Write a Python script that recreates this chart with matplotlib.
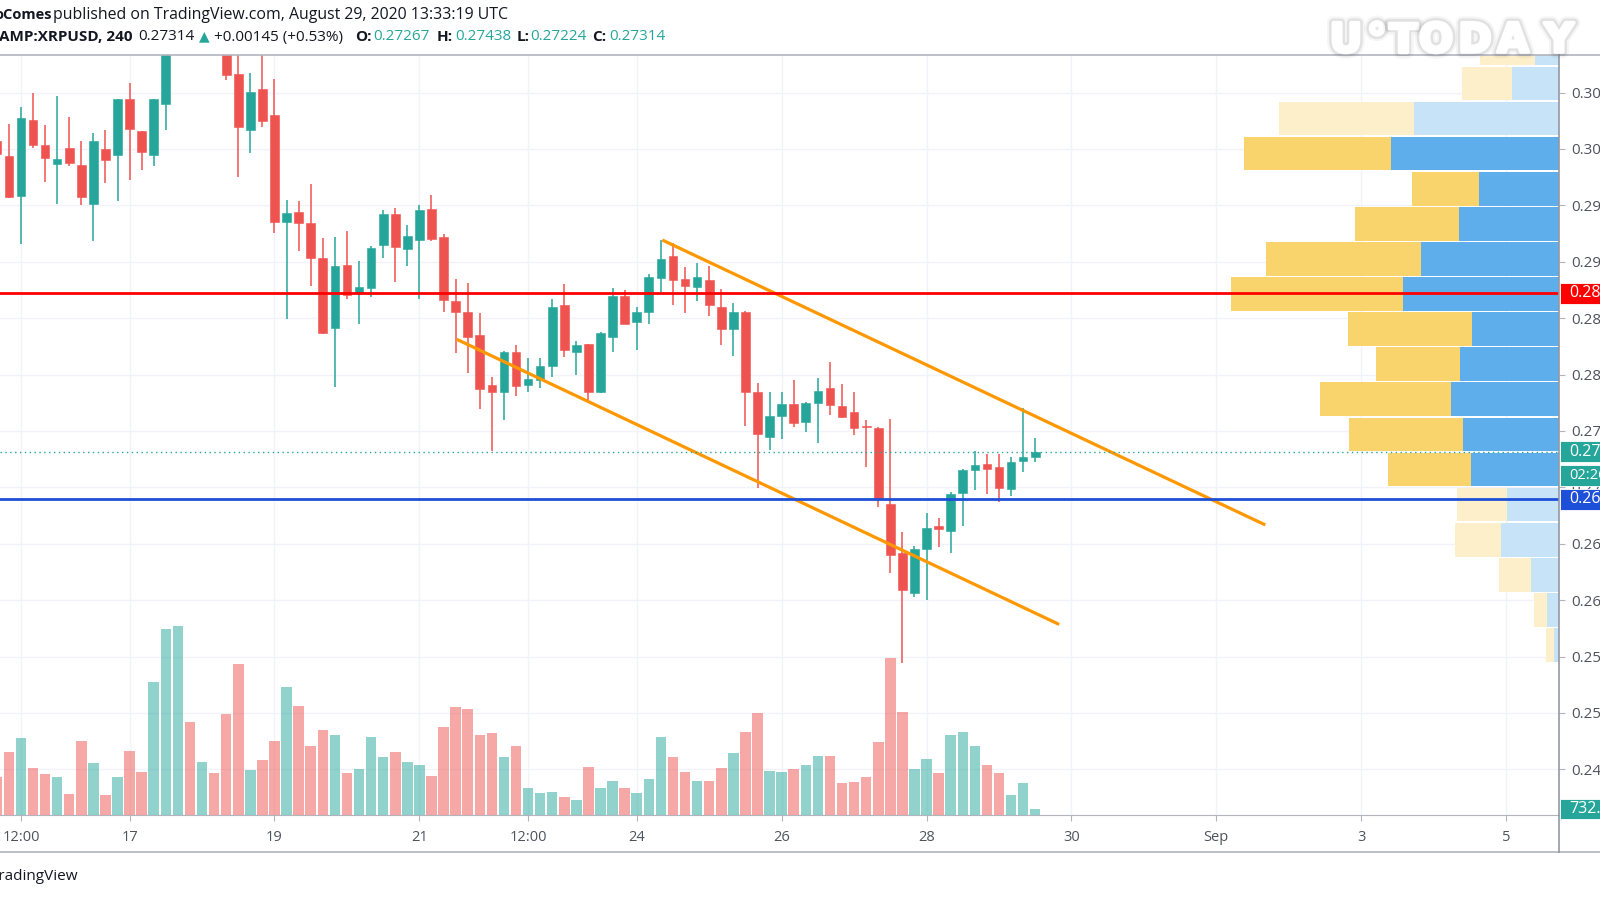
import numpy as np
import matplotlib.pyplot as plt
import matplotlib.patheffects as pe
from matplotlib.lines import Line2D
from matplotlib.patches import Rectangle

plt.rcParams['font.family'] = ['Open Sans', 'DejaVu Sans']

# ---- data ----
# 4h candles, x = day of August (Sep 1 = 32)
t0 = 15 + 4 / 24
opens = [0.30074, 0.29938, 0.29583, 0.30257, 0.30035, 0.29867, 0.30006, 0.29855, 0.29510, 0.30003,
         0.29944, 0.30446, 0.30157, 0.29944, 0.30399, 0.31150, 0.31900, 0.31400, 0.31700, 0.31250,
         0.30665, 0.30168, 0.30529, 0.30301, 0.29355, 0.29439, 0.29344, 0.29036, 0.28410, 0.28969,
         0.28721, 0.28770, 0.29149, 0.29424, 0.29111, 0.29193, 0.29468, 0.29217, 0.28652, 0.28552,
         0.28354, 0.27905, 0.27843, 0.28203, 0.27908, 0.27952, 0.28079, 0.28614, 0.28203, 0.28271,
         0.27843, 0.28336, 0.28697, 0.28469, 0.28555, 0.28854, 0.29054, 0.28847, 0.28779, 0.28839,
         0.28602, 0.28404, 0.28552, 0.27843, 0.27449, 0.27636, 0.27739, 0.27577, 0.27746, 0.27881,
         0.27722, 0.27666, 0.27544, 0.27524, 0.26853, 0.26416, 0.26061, 0.26451, 0.26660, 0.26616,
         0.26953, 0.27154, 0.27207, 0.27184, 0.26986, 0.27237, 0.27267]
highs = [0.30124, 0.30222, 0.30370, 0.30499, 0.30210, 0.30470, 0.30281, 0.30074, 0.30139, 0.30168,
         0.30445, 0.30582, 0.30160, 0.30445, 0.31300, 0.32300, 0.32000, 0.31850, 0.31800, 0.31300,
         0.30950, 0.30671, 0.30900, 0.30618, 0.29548, 0.29539, 0.29687, 0.29214, 0.29217, 0.29273,
         0.29007, 0.29140, 0.29459, 0.29474, 0.29326, 0.29504, 0.29590, 0.29246, 0.28845, 0.28809,
         0.28543, 0.27976, 0.28210, 0.28262, 0.28145, 0.28145, 0.28668, 0.28801, 0.28301, 0.28275,
         0.28380, 0.28770, 0.28750, 0.28597, 0.28892, 0.29193, 0.29164, 0.28951, 0.28992, 0.28963,
         0.28756, 0.28632, 0.28566, 0.27923, 0.27843, 0.27843, 0.27952, 0.27760, 0.27973, 0.28114,
         0.27917, 0.27843, 0.27598, 0.27533, 0.27606, 0.26607, 0.26481, 0.26770, 0.26726, 0.26962,
         0.27160, 0.27325, 0.27296, 0.27296, 0.27267, 0.27701, 0.27438]
lows = [0.29920, 0.29566, 0.29155, 0.30006, 0.29705, 0.29510, 0.29849, 0.29503, 0.29187, 0.29701,
        0.29542, 0.29725, 0.29814, 0.29852, 0.30168, 0.31000, 0.31200, 0.31250, 0.31100, 0.30612,
        0.29749, 0.29962, 0.30198, 0.29258, 0.28493, 0.29093, 0.28788, 0.28360, 0.27887, 0.28668,
        0.28449, 0.28691, 0.29031, 0.28824, 0.28965, 0.28670, 0.29187, 0.28552, 0.28189, 0.28012,
        0.27695, 0.27325, 0.27598, 0.27813, 0.27848, 0.27879, 0.27976, 0.28159, 0.27996, 0.27760,
        0.27840, 0.28198, 0.28445, 0.28218, 0.28446, 0.28735, 0.28617, 0.28549, 0.28655, 0.28520,
        0.28262, 0.28168, 0.27547, 0.26992, 0.27332, 0.27429, 0.27538, 0.27488, 0.27391, 0.27642,
        0.27618, 0.27465, 0.27184, 0.26829, 0.26238, 0.25443, 0.26031, 0.26002, 0.26469, 0.26416,
        0.26660, 0.26977, 0.26942, 0.26873, 0.26926, 0.27139, 0.27224]
closes = [0.29956, 0.29572, 0.30272, 0.30035, 0.29918, 0.29909, 0.29873, 0.29572, 0.30074, 0.29902,
          0.30441, 0.30180, 0.29973, 0.30441, 0.31150, 0.31900, 0.31400, 0.31700, 0.31250, 0.30656,
          0.30192, 0.30508, 0.30251, 0.29350, 0.29430, 0.29347, 0.29031, 0.28366, 0.28963, 0.28706,
          0.28774, 0.29125, 0.29424, 0.29134, 0.29231, 0.29459, 0.29199, 0.28661, 0.28552, 0.28336,
          0.27872, 0.27846, 0.28203, 0.27902, 0.27958, 0.28079, 0.28602, 0.28218, 0.28262, 0.27846,
          0.28366, 0.28697, 0.28449, 0.28558, 0.28863, 0.29027, 0.28839, 0.28788, 0.28863, 0.28617,
          0.28404, 0.28555, 0.27843, 0.27471, 0.27633, 0.27739, 0.27574, 0.27746, 0.27855, 0.27731,
          0.27627, 0.27524, 0.27533, 0.26895, 0.26401, 0.26090, 0.26451, 0.26643, 0.26631, 0.26942,
          0.27154, 0.27196, 0.27160, 0.26995, 0.27228, 0.27267, 0.27314]
volumes = [4673, 7723, 9357, 5697, 5002, 4599, 2562, 9028, 6307, 2477,
           4599, 7808, 5283, 16189, 22692, 23058, 11309, 6429, 5161, 12285,
           18385, 5490, 6710, 9065, 15579, 13298, 8418, 10407, 9723, 5124,
           5575, 9479, 7076, 7686, 6503, 6063, 4795, 10736, 13139, 12932,
           9723, 9967, 7137, 8418, 3331, 2684, 2843, 2233, 1830, 5893,
           3331, 4185, 3257, 2647, 4355, 9479, 7113, 5283, 4185, 4111,
           5697, 7601, 10163, 12481, 5368, 5283, 5575, 6063, 7198, 7198,
           3867, 4026, 4599, 8943, 19154, 12603, 5575, 6795, 5087, 9723,
           10089, 8418, 6063, 5087, 2440, 3867, 732]

# visible range volume profile (rows from top)
prof_price = [0.30893, 0.30582, 0.30271, 0.29959, 0.29648, 0.29337, 0.29026, 0.28715, 0.28403,
              0.28092, 0.27781, 0.27470, 0.27159, 0.26847, 0.26536, 0.26225, 0.25914, 0.25603]
prof_up = [2.4, 4.7, 14.5, 16.8, 8.0, 10.0, 13.8, 15.6, 8.7, 9.9, 10.8, 9.6, 8.8, 5.2, 5.8, 2.8, 1.2, 0.5]
prof_down = [5.5, 5.0, 13.5, 14.7, 6.7, 10.4, 15.5, 17.2, 12.4, 8.4, 13.1, 11.4, 8.3, 5.0, 4.6, 3.2, 1.3, 0.8]
value_area = [False, False, False, True, True, True, True, True, True, True, True, True, True,
              False, False, False, False, False]

resistance = 0.28723
support = 0.26897
last_close = 0.27314
countdown_level = 0.27105
upper_line_x, upper_line_y = [24.353, 32.676], [0.29193, 0.26667]
lower_line_x, lower_line_y = [21.515, 29.831], [0.28313, 0.25785]

price_ticks = [0.245, 0.250, 0.255, 0.260, 0.265, 0.270, 0.275, 0.280, 0.285, 0.290, 0.295, 0.300, 0.305]
date_ticks = [15.5, 17, 19, 21, 22.5, 24, 26, 28, 30, 32, 34, 36]
date_labels = ['12:00', '17', '19', '21', '12:00', '24', '26', '28', '30', 'Sep', '3', '5']

GREEN = '#26a69a'
RED = '#ef5350'
TXT = '#131722'
AXC = '#b2b5be'
LBL = '#50535e'

W, H = 1600, 900
fig = plt.figure(figsize=(16, 9), dpi=100)
rect = [0, 85 / H, 1559 / W, 760 / H]
xlim = (15.2112, 36.7294)
ylim = (0.240957, 0.308333)

ax = fig.add_axes(rect)
ax.set_xlim(xlim)
ax.set_ylim(ylim)
for s in ['left', 'top', 'right']:
    ax.spines[s].set_visible(False)
ax.spines['bottom'].set_color(AXC)
ax.yaxis.tick_right()
ax.set_yticks(price_ticks)
ax.set_yticklabels(['%.5f' % p for p in price_ticks])
ax.set_xticks(date_ticks)
ax.set_xticklabels(date_labels)
ax.tick_params(axis='y', length=4, color=AXC, labelcolor=LBL, labelsize=11, pad=4.5)
ax.tick_params(axis='x', length=4, color=AXC, labelcolor=LBL, labelsize=10.5, pad=7)
ax.grid(True, color='#f0f3fa', lw=1.0)
ax.set_axisbelow(True)

x = t0 + np.arange(len(opens)) * 4 / 24
o = np.array(opens)
c = np.array(closes)
up = c >= o
col = np.where(up, GREEN, RED)
ax.vlines(x, lows, highs, colors=col, lw=1.1, zorder=3)
ax.bar(x, np.maximum(np.abs(c - o), 0.00006), bottom=np.minimum(o, c), width=0.12,
       color=col, edgecolor=col, lw=0.4, zorder=4)

ax.plot(upper_line_x, upper_line_y, color='#ff9800', lw=2.3, solid_capstyle='butt', zorder=5)
ax.plot(lower_line_x, lower_line_y, color='#ff9800', lw=2.3, solid_capstyle='butt', zorder=5)

# volume pane
axv = fig.add_axes(rect, sharex=ax)
axv.set_ylim(0, 92720)
axv.set_axis_off()
vcol = [(0.149, 0.651, 0.604, 0.5) if u else (0.937, 0.325, 0.314, 0.5) for u in up]
axv.bar(x, volumes, width=0.145, color=vcol, zorder=2)

# volume profile
axp = fig.add_axes(rect)
axp.set_xlim(155.9, 0)
axp.set_ylim(ylim)
axp.set_axis_off()
for p, u, d, va in zip(prof_price, prof_up, prof_down, value_area):
    cu = '#5daeea' if va else '#c7e3f8'
    cd = '#f9d46c' if va else '#fdefca'
    axp.barh(p, u, left=0, height=0.00298, color=cu, lw=0)
    axp.barh(p, d, left=u, height=0.00298, color=cd, lw=0)

# horizontal levels on top
axt = fig.add_axes(rect, sharex=ax, sharey=ax)
axt.set_axis_off()
axt.axhline(resistance, color='#ff0000', lw=2.0)
axt.axhline(support, color='#1e4fd8', lw=2.0)
axt.axhline(last_close, color=GREEN, lw=1.0, ls=(0, (1, 2.5)))


def tag(axis, y, h, s, fc, fs=11.5):
    tr = axis.get_yaxis_transform()
    axis.add_patch(Rectangle((1.0005, y - h / 2), 0.04, h, transform=tr, fc=fc, ec='white',
                             lw=0.6, clip_on=False, zorder=20))
    axis.text(1.0068, y, s, transform=tr, va='center', ha='left', color='white', fontsize=fs,
              clip_on=False, zorder=21)


ph = 0.00186  # tag height in price units
tag(axt, resistance, ph, '0.28723', '#ff0000')
tag(axt, last_close, ph, '0.27314', GREEN)
tag(axt, countdown_level, 0.0018, '02:26:40', GREEN, fs=10.5)
tag(axt, support, ph, '0.26897', '#1e4fd8')
tag(axv, 732, 2400, '732.285K', GREEN)

# frame lines
fig.add_artist(Line2D([0, 1], [1 - 55 / H, 1 - 55 / H], color=AXC, lw=1.2))
fig.add_artist(Line2D([0, 1], [1 - 852 / H, 1 - 852 / H], color=AXC, lw=1.2))
fig.add_artist(Line2D([1559 / W, 1559 / W], [1 - 852 / H, 1 - 55 / H], color='#9598a1', lw=1.2))


def ftext(xp, yp, s, **kw):
    fig.text(xp / W, 1 - yp / H, s, va='center', ha='left', **kw)


# header
ftext(-6, 15, 'oComes', fontsize=10.5, color=TXT, fontweight='bold')
ftext(53, 15, 'published on TradingView.com, August 29, 2020 13:33:19 UTC', fontsize=11.4, color=TXT)
ftext(-1, 37, 'AMP:XRPUSD, 240', fontsize=11, color=TXT, fontweight='bold')
ftext(138, 37, '0.27314', fontsize=11, color=TXT)
ftext(199, 37, '\u25b2', fontsize=10, color=GREEN)
ftext(214, 37, '+0.00145 (+0.53%)', fontsize=11, color=TXT)
for xl, lab, xv, val in [(355, 'O:', 373, '0.27267'), (437, 'H:', 455, '0.27438'),
                         (517, 'L:', 530, '0.27224'), (592, 'C:', 609, '0.27314')]:
    ftext(xl, 37, lab, fontsize=11, color=TXT, fontweight='bold')
    ftext(xv, 37, val, fontsize=11, color=GREEN)

ftext(-9, 876, 'TradingView', fontsize=11, color=TXT)

# watermark
fx = [pe.withStroke(linewidth=9, foreground='#000000', alpha=0.04),
      pe.withStroke(linewidth=6, foreground='#000000', alpha=0.08),
      pe.withStroke(linewidth=2.5, foreground='white'), pe.Normal()]
for xp, ch in [(1346, 'U'), (1377, '\u00b0'), (1403, 'T'), (1436, 'O'), (1475, 'D'), (1513, 'A'), (1559, 'Y')]:
    fig.text(xp / W, 1 - 41 / H, ch, ha='center', va='center', fontsize=29, color='white',
             fontweight='bold', family='DejaVu Sans', path_effects=fx, zorder=10)

fig.savefig('out.png', dpi=100)
